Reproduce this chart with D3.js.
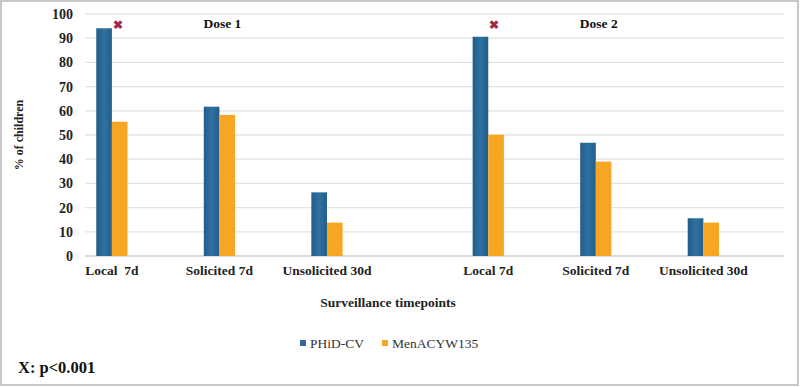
<!DOCTYPE html>
<html><head><meta charset="utf-8">
<script src="https://cdn.jsdelivr.net/npm/d3@7"></script>
<style>
body{margin:0;background:#fff;}
text{font-family:"Liberation Serif","Times New Roman",serif;white-space:pre;}
</style></head>
<body><svg id="c" width="800" height="387"></svg>
<script>
// 13 category slots (blank slots used as spacers, as in original chart)
const categories = ["Local  7d","","Solicited 7d","","Unsolicited 30d","","","Local 7d","","Solicited 7d","","Unsolicited 30d",""];
const phid =      [94.1,null,61.7,null,26.3,null,null,90.6,null,46.8,null,15.6,null];
const men =       [55.5,null,58.3,null,13.8,null,null,50.1,null,39.0,null,13.8,null];
const seriesNames = ["PHiD-CV","MenACYW135"];
const colors = ["#2b6a99","#f7a623"];
const yTicks = [0,10,20,30,40,50,60,70,80,90,100];
const doseLabels = [{label:"Dose 1", at:2},{label:"Dose 2", at:9}];
const sigMarks = [0,7]; // p<0.001 markers
const sigY = 96;

const svg = d3.select("#c");
svg.append("rect").attr("x",1).attr("y",1).attr("width",797).attr("height",384)
  .attr("fill","#fff").attr("stroke","#c8c8c8").attr("stroke-width",2);

const x = d3.scaleBand().domain(d3.range(categories.length)).range([85,784]);
const y = d3.scaleLinear().domain([0,100]).range([256,14]);
const xs = d3.scaleBand().domain([0,1]).range([0,x.bandwidth()]).paddingInner(0).paddingOuter(0.72);

// grid
svg.append("g").selectAll("line").data(yTicks).join("line")
  .attr("x1",85).attr("x2",784).attr("y1",d=>y(d)).attr("y2",d=>y(d))
  .attr("stroke",d=>d===0?"#cfcfcf":"#e3e3e3").attr("stroke-width",1.3);

// y tick labels
svg.append("g").selectAll("text").data(yTicks).join("text")
  .attr("x",73).attr("y",d=>y(d)+5).attr("text-anchor","end")
  .attr("font-size",14).attr("font-weight","bold").attr("fill","#222").text(d=>d);

const defs = svg.append("defs");
const g1 = defs.append("linearGradient").attr("id","gb").attr("x1",0).attr("x2",1);
g1.append("stop").attr("offset","0").attr("stop-color","#245d88");
g1.append("stop").attr("offset","0.5").attr("stop-color","#2f71a2");
g1.append("stop").attr("offset","1").attr("stop-color","#245d88");

const data = [phid, men];
data.forEach((arr,si)=>{
  svg.append("g").selectAll("rect").data(arr.map((v,i)=>({v,i})).filter(d=>d.v!=null)).join("rect")
    .attr("x",d=>x(d.i)+xs(si)).attr("width",xs.bandwidth())
    .attr("y",d=>y(d.v)).attr("height",d=>y(0)-y(d.v))
    .attr("fill", si===0?"url(#gb)":colors[1]);
});

// x labels
svg.append("g").selectAll("text").data(categories.map((c,i)=>({c,i})).filter(d=>d.c)).join("text")
  .attr("x",d=>x(d.i)+x.bandwidth()/2).attr("y",275).attr("text-anchor","middle")
  .attr("font-size",13.5).attr("font-weight","bold").attr("fill","#222").text(d=>d.c);

// dose labels
svg.append("g").selectAll("text").data(doseLabels).join("text")
  .attr("x",d=>x(d.at)+x.bandwidth()/2+3).attr("y",28).attr("text-anchor","middle")
  .attr("font-size",13.5).attr("font-weight","bold").attr("fill","#111").text(d=>d.label);

// significance markers
svg.append("g").selectAll("text").data(sigMarks).join("text")
  .attr("x",d=>x(d)+xs(1)+xs.bandwidth()/2 - 2).attr("y",y(sigY)+5).attr("text-anchor","middle")
  .attr("font-family","DejaVu Sans").attr("font-size",12).attr("font-weight","bold")
  .attr("fill","#a3284d").text("✖");

// axis titles
svg.append("text").attr("transform","translate(23,135) rotate(-90)").attr("text-anchor","middle")
  .attr("font-size",12).attr("font-weight","bold").attr("fill","#222").text("% of children");
svg.append("text").attr("x",388).attr("y",307).attr("text-anchor","middle")
  .attr("font-size",13.5).attr("font-weight","bold").attr("fill","#222").text("Surveillance timepoints");

// legend
const leg = svg.append("g");
const legX = [300, 382];
seriesNames.forEach((n,i)=>{
  leg.append("rect").attr("x",legX[i]).attr("y",340).attr("width",6).attr("height",6).attr("fill",colors[i]);
  leg.append("text").attr("x",legX[i]+10).attr("y",347.5).attr("font-size",13.5).attr("fill","#333").text(n);
});

svg.append("text").attr("x",18).attr("y",373).attr("font-size",16.5).attr("font-weight","bold")
  .attr("fill","#111").text("X: p<0.001");
</script></body></html>
